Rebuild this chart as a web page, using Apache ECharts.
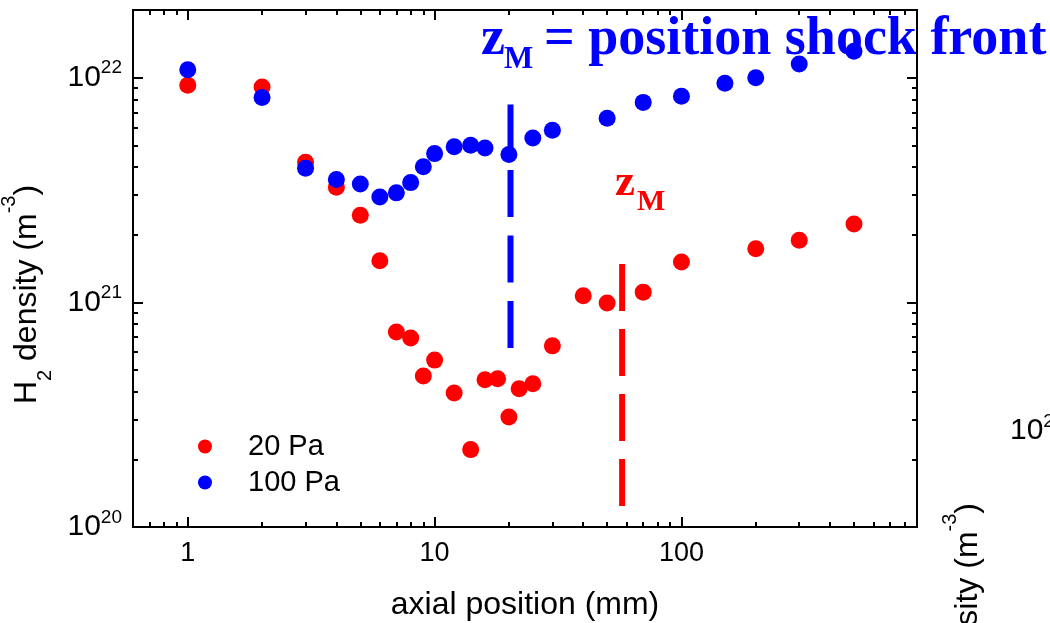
<!DOCTYPE html>
<html><head><meta charset="utf-8">
<script src="https://cdn.jsdelivr.net/npm/echarts@6/dist/echarts.min.js"></script>
<style>html,body{margin:0;padding:0;background:#fff}#c{width:1050px;height:623px}</style>
</head><body><div id="c"></div>
<script>
// ---- data ----
const positions20 = [1,2,3,4,5,6,7,8,9,10,12,14,16,18,20,22,25,30,40,50,70,100,200,300,500];
const density20 = [9.25e21,9.08e21,4.2e21,3.25e21,2.44e21,1.53e21,7.38e20,6.93e20,4.7e20,5.53e20,3.95e20,2.21e20,4.52e20,4.57e20,3.09e20,4.12e20,4.34e20,6.4e20,1.07e21,9.93e20,1.11e21,1.51e21,1.73e21,1.89e21,2.23e21];
const positions100 = [1,2,3,4,5,6,7,8,9,10,12,14,16,20,25,30,50,70,100,150,200,300,500];
const density100 = [1.085e22,8.15e21,3.95e21,3.52e21,3.36e21,2.94e21,3.07e21,3.41e21,4.01e21,4.59e21,4.92e21,5.0e21,4.86e21,4.55e21,5.39e21,5.83e21,6.6e21,7.76e21,8.26e21,9.43e21,1.0e22,1.15e22,1.31e22];
const shock100X = [20.3, 20.3];
const shock100Y = [7.6e21, 6.2e20];
const shock20X = [57.5, 57.5];
const shock20Y = [1.48e21, 1.19e20];
const xRange = [0.6, 900];
const yRange = [1e20, 2e22];
const xMajor = [1, 10, 100];
const xMinor = [0.7,0.8,0.9,2,3,4,5,6,7,8,9,20,30,40,50,60,70,80,90,200,300,400,500,600,700,800,900];
const yMajor = [1e20, 1e21, 1e22];
const yMinor = [2e20,3e20,4e20,5e20,6e20,7e20,8e20,9e20,2e21,3e21,4e21,5e21,6e21,7e21,8e21,9e21,2e22];
const seriesNames = ['20 Pa', '100 Pa'];

const L = Math.log10;
const pairs = (xs, ys) => xs.map((x, i) => [L(x), L(ys[i])]);
const SANS = '"Liberation Sans", Arial, sans-serif';
const SERIF = '"Liberation Serif", "Times New Roman", serif';

function xAxisDef(pos, ticks, len, withLabels) {
  return {
    type: 'value', position: pos, min: L(xRange[0]), max: L(xRange[1]),
    axisLine: { show: true, onZero: false, lineStyle: { color: '#000', width: 2 } },
    axisTick: { show: true, inside: true, length: len, customValues: ticks.map(L), lineStyle: { color: '#000', width: 2 } },
    axisLabel: withLabels ? {
      show: true, customValues: ticks.map(L), margin: 13,
      formatter: v => String(Math.round(Math.pow(10, v))),
      fontSize: 27, fontFamily: SANS, color: '#000'
    } : { show: false },
    splitLine: { show: false },
    name: withLabels ? 'axial position (mm)' : '',
    nameLocation: 'middle', nameGap: 62,
    nameTextStyle: { fontSize: 32, fontFamily: SANS, color: '#000' }
  };
}
function yAxisDef(pos, ticks, len, withLabels) {
  return {
    type: 'value', position: pos, min: L(yRange[0]), max: L(yRange[1]),
    axisLine: { show: true, onZero: false, lineStyle: { color: '#000', width: 2 } },
    axisTick: { show: true, inside: true, length: len, customValues: ticks.map(L), lineStyle: { color: '#000', width: 2 } },
    axisLabel: withLabels ? {
      show: true, customValues: ticks.map(L), margin: 11,
      formatter: v => '{b|10}{s|' + Math.round(v) + '}',
      rich: {
        b: { fontSize: 30, lineHeight: 38, fontFamily: SANS, color: '#000' },
        s: { fontSize: 19, lineHeight: 19, verticalAlign: 'top', fontFamily: SANS, color: '#000' }
      }
    } : { show: false },
    splitLine: { show: false },
    name: withLabels ? '{a|H}{sub|2}{a| density (m}{sup|-3}{a|)}' : '',
    nameLocation: 'middle', nameGap: 78, nameRotate: 90,
    nameTextStyle: {
      padding: [0, 52, 0, 0],
      rich: {
        a: { fontSize: 32, lineHeight: 56, fontFamily: SANS, color: '#000' },
        sub: { fontSize: 20, lineHeight: 34, verticalAlign: 'bottom', fontFamily: SANS, color: '#000' },
        sup: { fontSize: 20, lineHeight: 20, verticalAlign: 'top', fontFamily: SANS, color: '#000' }
      }
    }
  };
}

const chart = echarts.init(document.getElementById('c'), null, { renderer: 'canvas' });
chart.setOption({
  animation: false,
  backgroundColor: '#fff',
  grid: { left: 133, top: 10, right: 133, bottom: 96, containLabel: false, outerBoundsMode: 'none' },
  xAxis: [
    xAxisDef('bottom', xMajor, 10, true),
    xAxisDef('bottom', xMinor, 5, false),
    xAxisDef('top', xMajor, 10, false),
    xAxisDef('top', xMinor, 5, false)
  ],
  yAxis: [
    yAxisDef('left', yMajor, 10, true),
    yAxisDef('left', yMinor, 5, false),
    yAxisDef('right', yMajor, 10, false),
    yAxisDef('right', yMinor, 5, false)
  ],
  legend: {
    data: seriesNames, orient: 'vertical', left: 198, top: 432, padding: 0,
    itemWidth: 14, itemHeight: 14, itemGap: 7, icon: 'circle',
    textStyle: { fontSize: 29, fontFamily: SANS, color: '#000', padding: [0, 0, 0, 31] }
  },
  series: [
    { type: 'line', name: 'shock100', data: pairs(shock100X, shock100Y), symbol: 'none', silent: true,
      lineStyle: { color: '#0000ff', width: 6, type: [47, 18.5], cap: 'butt' }, z: 1 },
    { type: 'line', name: 'shock20', data: pairs(shock20X, shock20Y), symbol: 'none', silent: true,
      lineStyle: { color: '#ff0000', width: 6, type: [47, 18], cap: 'butt' }, z: 1 },
    { type: 'scatter', name: seriesNames[0], data: pairs(positions20, density20), symbol: 'circle', symbolSize: 17,
      itemStyle: { color: '#ff0000', opacity: 1 }, z: 3 },
    { type: 'scatter', name: seriesNames[1], data: pairs(positions100, density100), symbol: 'circle', symbolSize: 17,
      itemStyle: { color: '#0000ff', opacity: 1 }, z: 4 }
  ],
  graphic: [
    { type: 'text', x: 481, y: 40, z: 0, style: { text: 'z', font: 'bold 54px ' + SERIF, fill: '#0000ff', verticalAlign: 'middle' } },
    { type: 'text', x: 504, y: 59.5, z: 0, style: { text: 'M', font: 'bold 31px ' + SERIF, fill: '#0000ff', verticalAlign: 'middle' } },
    { type: 'text', x: 544, y: 40, z: 0, style: { text: '= position shock front', font: 'bold 54px ' + SERIF, fill: '#0000ff', verticalAlign: 'middle' } },
    { type: 'text', x: 615, y: 183, z: 0, style: { text: 'z', font: 'bold 45px ' + SERIF, fill: '#ff0000', verticalAlign: 'middle' } },
    { type: 'text', x: 637, y: 202, z: 0, style: { text: 'M', font: 'bold 30px ' + SERIF, fill: '#ff0000', verticalAlign: 'middle' } },
    { type: 'text', x: 1010, y: 431, z: 0, style: { text: '{b|10}{s|22}', verticalAlign: 'middle',
      rich: { b: { fontSize: 30, lineHeight: 38, fontFamily: SANS, color: '#000' },
              s: { fontSize: 19, lineHeight: 19, verticalAlign: 'top', fontFamily: SANS, color: '#000' } } } },
    { type: 'text', x: 968, y: 503, rotation: Math.PI / 2, z: 0, style: {
      text: '{a|H}{sub|2}{a| density (m}{sup|-3}{a|)}', align: 'right', verticalAlign: 'middle',
      rich: {
        a: { fontSize: 32, lineHeight: 56, fontFamily: SANS, color: '#000' },
        sub: { fontSize: 20, lineHeight: 34, verticalAlign: 'bottom', fontFamily: SANS, color: '#000' },
        sup: { fontSize: 20, lineHeight: 20, verticalAlign: 'top', fontFamily: SANS, color: '#000' }
      } } }
  ]
});
</script>
</body></html>
